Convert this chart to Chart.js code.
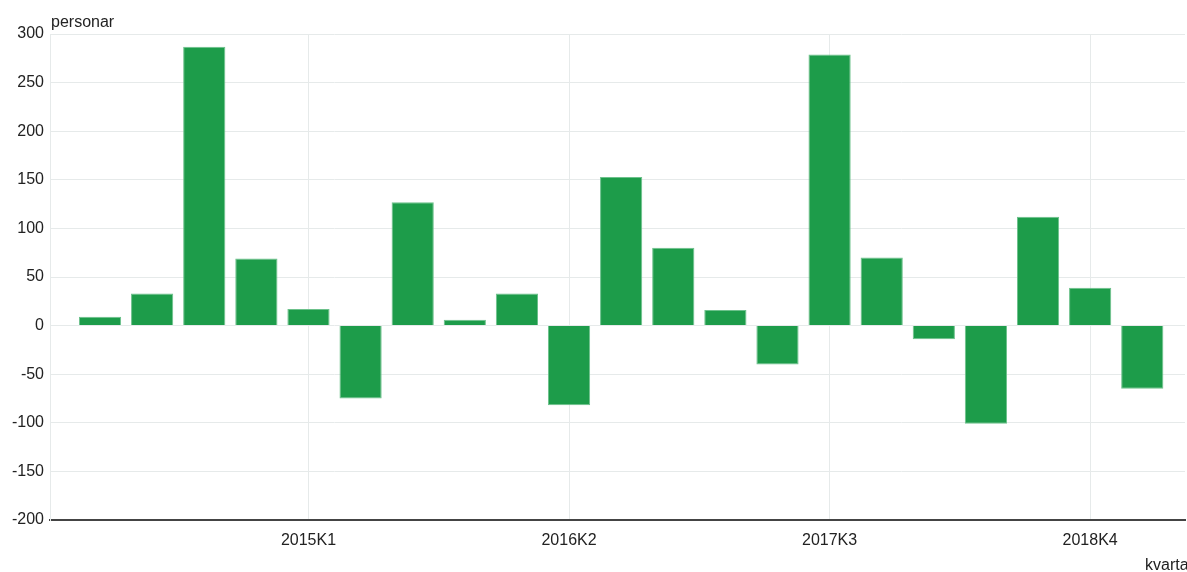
<!DOCTYPE html>
<html>
<head>
<meta charset="utf-8">
<script src="https://cdn.jsdelivr.net/npm/chart.js@4"></script>
<style>
  body { margin: 0; background: #fff; overflow: hidden; }
  #wrap { width: 1187px; height: 572px; position: relative; }
</style>
</head>
<body>
<div id="wrap"><canvas id="chart"></canvas></div>
<script>
// quarters 2014K1 .. 2019K1
const quarters = [
    '2014K1', '2014K2', '2014K3', '2014K4',
    '2015K1', '2015K2', '2015K3', '2015K4',
    '2016K1', '2016K2', '2016K3', '2016K4',
    '2017K1', '2017K2', '2017K3', '2017K4',
    '2018K1', '2018K2', '2018K3', '2018K4',
    '2019K1'
];
const personar = [
    9, 33, 287, 69,
    17, -75, 127, 6,
    33, -82, 153, 80,
    16, -40, 279, 70,
    -14, -101, 112, 39,
    -65
];
const labelledTicks = [4, 9, 14, 19];
const yTitle = 'personar';
const xTitle = 'kvartal';

const FONT = '"Liberation Sans", Arial, sans-serif';

const axisTitles = {
    id: 'axisTitles',
    afterDraw(chart) {
        const ctx = chart.ctx;
        ctx.save();
        ctx.font = '16px ' + FONT;
        ctx.fillStyle = '#222';
        ctx.textBaseline = 'alphabetic';
        ctx.textAlign = 'left';
        ctx.fillText(yTitle, 51, 27);
        ctx.fillText(xTitle, 1145, 570);
        ctx.restore();
    }
};

const ctx = document.getElementById('chart').getContext('2d');
const chart = new Chart(ctx, {
    type: 'bar',
    data: {
        datasets: [{
            label: yTitle,
            data: personar.map((v, i) => ({ x: i, y: v })),
            backgroundColor: '#1d9c4a',
            borderColor: '#6cc18b',
            borderWidth: 1,
            categoryPercentage: 1,
            barPercentage: 0.81
        }]
    },
    options: {
        responsive: true,
        maintainAspectRatio: false,
        animation: false,
        layout: { padding: { top: 34, right: 2, left: 0, bottom: 0 } },
        plugins: {
            legend: { display: false },
            tooltip: { enabled: false }
        },
        scales: {
            x: {
                type: 'linear',
                offset: false,
                min: -0.96,
                max: 20.82,
                afterBuildTicks: (scale) => {
                    scale.ticks = labelledTicks.map(v => ({ value: v }));
                },
                afterFit: (scale) => { scale.height = 52; },
                ticks: {
                    callback: (v) => quarters[v],
                    color: '#222',
                    font: { family: FONT, size: 16 },
                    padding: 11,
                    maxRotation: 0
                },
                grid: { color: '#e6eaea', drawTicks: false, offset: false },
                border: { color: '#444', width: 2 }
            },
            y: {
                min: -200,
                max: 300,
                ticks: {
                    stepSize: 50,
                    color: '#222',
                    font: { family: FONT, size: 16 },
                    padding: 6
                },
                afterFit: (scale) => { scale.width = 50; },
                grid: { color: '#e6eaea', drawTicks: false },
                border: { color: '#e6eaea', width: 1 }
            }
        }
    },
    plugins: [axisTitles]
});
</script>
</body>
</html>
